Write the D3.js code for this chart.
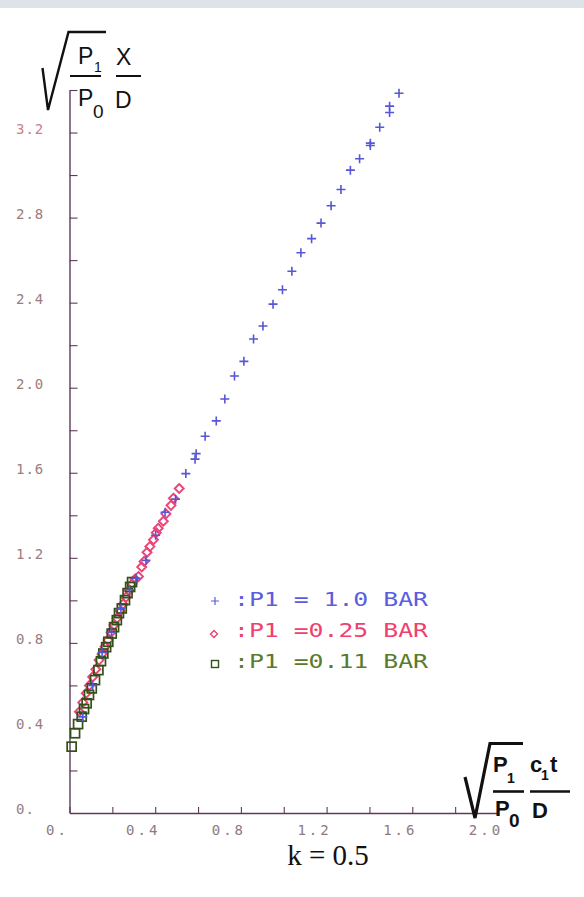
<!DOCTYPE html>
<html>
<head>
  <meta charset="UTF-8">
  <style>
    body { margin: 0; background: #fff; }
    svg { display: block; }
    .plot { font-family: "DejaVu Sans Mono", monospace; }
    .title { font-family: "Liberation Sans", Arial, sans-serif; fill: #111; }
  </style>
</head>
<body>
<svg></svg>
<script src="https://d3js.org/d3.v7.min.js"></script>
<script>

let width = 584, height = 897;

// values
let xTicks = [0, 0.2, 0.4, 0.6, 0.8, 1.0, 1.2, 1.4, 1.6, 1.8, 2.0];
let xLabels = ["0.", "0.4", "0.8", "1.2", "1.6", "2.0"];
let xLabelVals = [0, 0.4, 0.8, 1.2, 1.6, 2.0];
let yTicks = [0.2, 0.4, 0.6, 0.8, 1.0, 1.2, 1.4, 1.6, 1.8, 2.0, 2.2, 2.4, 2.6, 2.8, 3.0, 3.2, 3.4];
let yLabels = ["0.", "0.4", "0.8", "1.2", "1.6", "2.0", "2.4", "2.8", "3.2"];
let yLabelVals = [0, 0.4, 0.8, 1.2, 1.6, 2.0, 2.4, 2.8, 3.2];

// P1 = 1.0 bar
let blueX = [0.062, 0.108, 0.152, 0.196, 0.240, 0.280, 0.310, 0.357, 0.402, 0.446, 0.495, 0.543, 0.586, 0.591,
  0.633, 0.685, 0.725, 0.770, 0.814, 0.859, 0.903, 0.950, 0.994, 1.038, 1.080, 1.130, 1.174, 1.221, 1.267,
  1.311, 1.354, 1.404, 1.404, 1.448, 1.494, 1.494, 1.538];
let blueY = [0.452, 0.600, 0.755, 0.850, 0.960, 1.050, 1.104, 1.188, 1.306, 1.414, 1.476, 1.596, 1.664, 1.690,
  1.772, 1.844, 1.947, 2.055, 2.124, 2.229, 2.290, 2.393, 2.461, 2.548, 2.635, 2.701, 2.774, 2.856, 2.932,
  3.023, 3.077, 3.139, 3.150, 3.225, 3.294, 3.324, 3.385];

// P1 = 0.25 bar
let pinkX = [0.046, 0.062, 0.078, 0.093, 0.108, 0.123, 0.138, 0.152, 0.166, 0.180, 0.194, 0.208, 0.222, 0.236,
  0.250, 0.264, 0.278, 0.292, 0.306, 0.322, 0.337, 0.348, 0.362, 0.375, 0.392, 0.405, 0.414, 0.438, 0.450,
  0.474, 0.485, 0.512];
let pinkY = [0.476, 0.520, 0.563, 0.600, 0.640, 0.676, 0.719, 0.748, 0.782, 0.813, 0.850, 0.884, 0.916, 0.950,
  0.982, 1.015, 1.046, 1.078, 1.100, 1.112, 1.157, 1.183, 1.226, 1.253, 1.285, 1.318, 1.339, 1.372, 1.407,
  1.447, 1.480, 1.526];

// P1 = 0.11 bar
let greenX = [0.010, 0.026, 0.040, 0.057, 0.068, 0.080, 0.091, 0.104, 0.119, 0.135, 0.147, 0.158, 0.171, 0.181,
  0.197, 0.208, 0.221, 0.231, 0.244, 0.259, 0.271, 0.283, 0.292];
let greenY = [0.312, 0.375, 0.418, 0.453, 0.489, 0.516, 0.555, 0.586, 0.625, 0.672, 0.714, 0.750, 0.780, 0.805,
  0.844, 0.874, 0.907, 0.940, 0.962, 1.001, 1.034, 1.063, 1.086];

let legendText = [":P1 = 1.0 BAR", ":P1 =0.25 BAR", ":P1 =0.11 BAR"];
let legendColors = ["#5c5ce0", "#f0406e", "#5a7a2e"];
let markerColors = ["#5656d6", "#ec4476", "#34501a"];

let svg = d3.select("svg")
    .attr("width", width)
    .attr("height", height);

// grey strip along the top of the scan
svg.append("rect")
    .attr("x", 0).attr("y", 0)
    .attr("width", width).attr("height", 8)
    .attr("fill", "#dde3e9");

let x = d3.scaleLinear().domain([0, 2.0]).range([69.5, 498]);
let y = d3.scaleLinear().domain([0, 3.4]).range([813, 90]);

let axisColor = "#5e3a5a";

let xAxis = svg.append("g")
    .attr("class", "plot")
    .attr("transform", "translate(0," + y(0) + ")")
    .call(d3.axisBottom(x).tickValues(xTicks).tickSize(-6).tickSizeOuter(0).tickFormat(""));

let yAxis = svg.append("g")
    .attr("class", "plot")
    .attr("transform", "translate(" + x(0) + ",0)")
    .call(d3.axisLeft(y).tickValues(yTicks).tickSize(-8).tickSizeOuter(0).tickFormat(""));

[xAxis, yAxis].forEach(g => {
    g.select(".domain").attr("stroke", axisColor).attr("stroke-width", 1.4);
    g.selectAll(".tick line").attr("stroke", axisColor).attr("stroke-width", 1.1);
});

// tick labels, plotter style
svg.append("g").attr("class", "plot")
    .selectAll("text")
    .data(xLabelVals)
    .enter()
    .append("text")
    .attr("x", d => x(d) - 12)
    .attr("y", 835)
    .attr("text-anchor", "middle")
    .attr("font-size", 14)
    .attr("letter-spacing", 3)
    .attr("fill", "#8e7a7c")
    .text((d, i) => xLabels[i]);

svg.append("g").attr("class", "plot")
    .selectAll("text")
    .data(yLabelVals)
    .enter()
    .append("text")
    .attr("x", 16)
    .attr("y", d => y(d) + 1)
    .attr("font-size", 14)
    .attr("letter-spacing", 1)
    .attr("fill", (d, i) => i == yLabels.length - 1 ? "#cc7e8e" : "#9a7c80")
    .text((d, i) => yLabels[i]);

// markers
let pink = d3.zip(pinkX, pinkY);
let blue = d3.zip(blueX, blueY);
let green = d3.zip(greenX, greenY);

svg.append("g")
    .selectAll("path")
    .data(pink)
    .enter()
    .append("path")
    .attr("transform", d => "translate(" + x(d[0]) + "," + y(d[1]) + ")")
    .attr("d", "M0,-4.5L4.5,0L0,4.5L-4.5,0Z")
    .attr("fill", "none")
    .attr("stroke", markerColors[1])
    .attr("stroke-width", 1.9);

svg.append("g")
    .selectAll("rect")
    .data(green)
    .enter()
    .append("rect")
    .attr("x", d => x(d[0]) - 4.5)
    .attr("y", d => y(d[1]) - 4.5)
    .attr("width", 9)
    .attr("height", 9)
    .attr("fill", "none")
    .attr("stroke", markerColors[2])
    .attr("stroke-width", 1.7);

svg.append("g")
    .selectAll("path")
    .data(blue)
    .enter()
    .append("path")
    .attr("transform", d => "translate(" + x(d[0]) + "," + y(d[1]) + ")")
    .attr("d", "M-4.5,0H4.5M0,-4.5V4.5")
    .attr("fill", "none")
    .attr("stroke", markerColors[0])
    .attr("stroke-width", 1.6);

// legend
let legend = svg.append("g").attr("class", "plot");
let legendRowY = [606, 637, 668];
legendText.forEach((t, i) => {
    if (i == 0) {
        legend.append("path").attr("d", "M211,601H219M215,597V605")
            .attr("stroke", legendColors[0]).attr("stroke-width", 1.2).attr("fill", "none");
    } else if (i == 1) {
        legend.append("path").attr("d", "M214,630.5L217.5,634L214,637.5L210.5,634Z")
            .attr("stroke", legendColors[1]).attr("stroke-width", 1.4).attr("fill", "none");
    } else {
        legend.append("rect").attr("x", 211.5).attr("y", 660.5).attr("width", 7).attr("height", 7)
            .attr("stroke", markerColors[2]).attr("stroke-width", 1.4).attr("fill", "none");
    }
    legend.append("text")
        .attr("x", 234)
        .attr("y", legendRowY[i])
        .attr("font-size", 20)
        .attr("textLength", 194)
        .attr("lengthAdjust", "spacingAndGlyphs")
        .attr("fill", legendColors[i])
        .text(t);
});

// y axis title: sqrt(P1/P0) X/D
let yt = svg.append("g").attr("class", "title");
yt.append("path")
    .attr("d", "M42.5,68L48,110L68.5,32H106")
    .attr("fill", "none").attr("stroke", "#111").attr("stroke-width", 2.4)
    .attr("stroke-linejoin", "miter");
yt.append("text").attr("x", 78).attr("y", 64).attr("font-size", 23).text("P");
yt.append("text").attr("x", 94).attr("y", 72).attr("font-size", 14).text("1");
yt.append("line").attr("x1", 70).attr("x2", 101).attr("y1", 76).attr("y2", 76)
    .attr("stroke", "#111").attr("stroke-width", 2);
yt.append("text").attr("x", 78).attr("y", 106).attr("font-size", 23).text("P");
yt.append("text").attr("x", 93).attr("y", 118).attr("font-size", 19).text("0");
yt.append("text").attr("x", 116).attr("y", 65).attr("font-size", 23).text("X");
yt.append("line").attr("x1", 116).attr("x2", 141).attr("y1", 76).attr("y2", 76)
    .attr("stroke", "#111").attr("stroke-width", 2);
yt.append("text").attr("x", 115).attr("y", 108).attr("font-size", 23).text("D");

// x axis title: sqrt(P1/P0) c1 t/D
let xt = svg.append("g").attr("class", "title").attr("font-weight", "bold");
xt.append("path")
    .attr("d", "M465,777L475,818L490,743.5H523")
    .attr("fill", "none").attr("stroke", "#111").attr("stroke-width", 3.2);
xt.append("text").attr("x", 493).attr("y", 772).attr("font-size", 22).text("P");
xt.append("text").attr("x", 507).attr("y", 783).attr("font-size", 14).text("1");
xt.append("line").attr("x1", 493).attr("x2", 524).attr("y1", 791.5).attr("y2", 791.5)
    .attr("stroke", "#111").attr("stroke-width", 2.6);
xt.append("text").attr("x", 495).attr("y", 816).attr("font-size", 22).text("P");
xt.append("text").attr("x", 509).attr("y", 827).attr("font-size", 19).text("0");
xt.append("text").attr("x", 530).attr("y", 772).attr("font-size", 22).text("c");
xt.append("text").attr("x", 541).attr("y", 780).attr("font-size", 14).text("1");
xt.append("text").attr("x", 550).attr("y", 772).attr("font-size", 22).text("t");
xt.append("line").attr("x1", 530).attr("x2", 570).attr("y1", 791.5).attr("y2", 791.5)
    .attr("stroke", "#111").attr("stroke-width", 2.6);
xt.append("text").attr("x", 532).attr("y", 818).attr("font-size", 22).text("D");

// caption
svg.append("text")
    .attr("x", 328)
    .attr("y", 865)
    .attr("text-anchor", "middle")
    .attr("font-family", "Liberation Serif, Times New Roman, serif")
    .attr("font-size", 29)
    .attr("fill", "#111")
    .text("k = 0.5");

</script>
</body>
</html>
